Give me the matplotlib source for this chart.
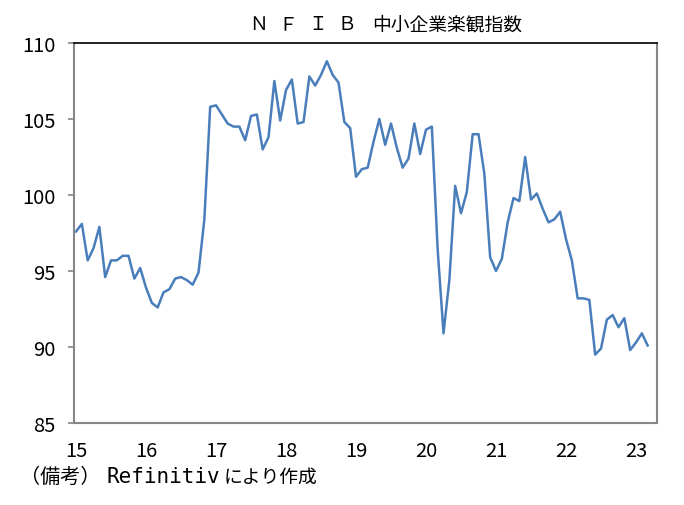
import numpy as np
import matplotlib
matplotlib.use("Agg")
import matplotlib.pyplot as plt

plt.rcParams['font.family'] = ['Noto Sans CJK JP', 'DejaVu Sans']

title_latin = "ＮＦＩＢ"
title_rest = "中小企業楽観指数"
note_parts = ["（備考）", "Refinitiv", "により作成"]

# monthly index, Jan 2015 - Mar 2023
v2015 = [97.6, 98.1, 95.7, 96.5, 97.9, 94.6, 95.7, 95.7, 96.0, 96.0, 94.5, 95.2]
v2016 = [93.9, 92.9, 92.6, 93.6, 93.8, 94.5, 94.6, 94.4, 94.1, 94.9, 98.4, 105.8]
v2017 = [105.9, 105.3, 104.7, 104.5, 104.5, 103.6, 105.2, 105.3, 103.0, 103.8, 107.5, 104.9]
v2018 = [106.9, 107.6, 104.7, 104.8, 107.8, 107.2, 107.9, 108.8, 107.9, 107.4, 104.8, 104.4]
v2019 = [101.2, 101.7, 101.8, 103.5, 105.0, 103.3, 104.7, 103.1, 101.8, 102.4, 104.7, 102.7]
v2020 = [104.3, 104.5, 96.4, 90.9, 94.4, 100.6, 98.8, 100.2, 104.0, 104.0, 101.4, 95.9]
v2021 = [95.0, 95.8, 98.2, 99.8, 99.6, 102.5, 99.7, 100.1, 99.1, 98.2, 98.4, 98.9]
v2022 = [97.1, 95.7, 93.2, 93.2, 93.1, 89.5, 89.9, 91.8, 92.1, 91.3, 91.9, 89.8]
v2023 = [90.3, 90.9, 90.1]

values = v2015 + v2016 + v2017 + v2018 + v2019 + v2020 + v2021 + v2022 + v2023
x = 15 + np.arange(len(values)) / 12

year_ticks = list(range(15, 24))
y_ticks = [85, 90, 95, 100, 105, 110]

W, H = 684, 506
fig = plt.figure(figsize=(W / 100, H / 100), dpi=100)
ax = fig.add_axes([74 / W, 1 - 424 / H, (657 - 74) / W, (424 - 44) / H])

ax.plot(x, values, color='#4a7ebb', lw=1.8)

ax.set_xlim(14.971, 23.3)
ax.set_ylim(85, 110)
ax.set_xticks(year_ticks)
ax.set_xticklabels([str(t) for t in year_ticks])
ax.set_yticks(y_ticks)

ax.tick_params(axis='x', length=0, pad=12, labelsize=14.5)
ax.tick_params(axis='y', length=4.5, width=1.2, color='#868686', pad=9, labelsize=14.5)

for s in ['left', 'bottom', 'right']:
    ax.spines[s].set_color('#868686')
    ax.spines[s].set_linewidth(1.5)
ax.spines['top'].set_color('black')
ax.spines['top'].set_linewidth(1.2)

# title: spaced full-width letters, then kanji
ty = 1 - 25 / H
for k, ch in enumerate(title_latin):
    fig.text((258.5 + 29.5 * k) / W, ty, ch, ha='center', va='center', fontsize=13.5)
fig.text(522 / W, ty, title_rest, ha='right', va='center', fontsize=13.5)

# footnote, pieces placed to follow the original spacing
ny = 1 - 477 / H
fig.text(20 / W, ny, note_parts[0], ha='left', va='center', fontsize=14.5)
fig.text(107 / W, ny, note_parts[1], ha='left', va='center', fontsize=15,
         family='DejaVu Sans Mono')
fig.text(224 / W, ny, note_parts[2], ha='left', va='center', fontsize=13.5)

fig.savefig("out.png", dpi=100)
